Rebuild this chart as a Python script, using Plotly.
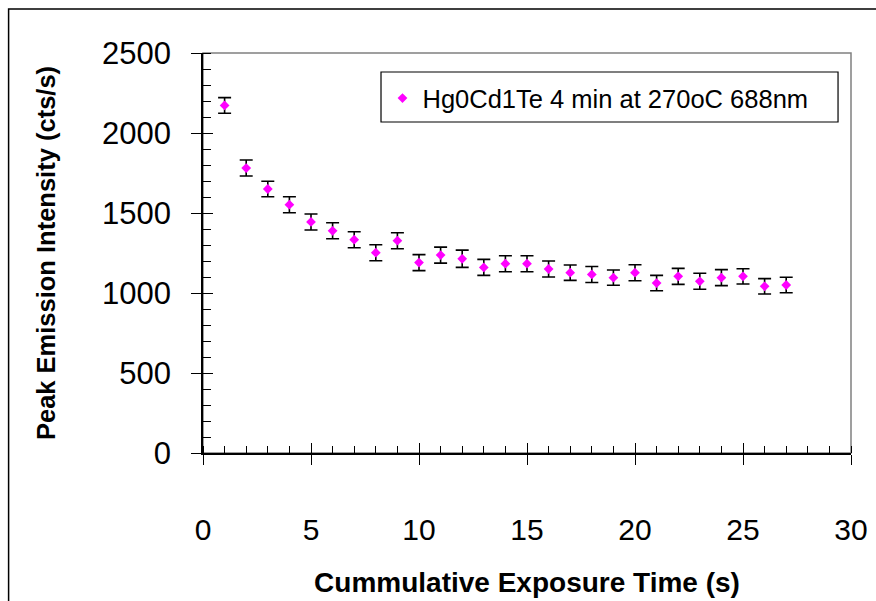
import plotly.graph_objects as go

# Exposure series: peak emission intensity vs cumulative exposure time
exposure_s = [1, 2, 3, 4, 5, 6, 7, 8, 9, 10, 11, 12, 13, 14, 15, 16, 17, 18, 19,
              20, 21, 22, 23, 24, 25, 26, 27]
intensity = [2172, 1781, 1650, 1552, 1444, 1389, 1333, 1252, 1327, 1190, 1237,
             1214, 1160, 1183, 1183, 1150, 1127, 1116, 1096, 1127, 1062, 1104,
             1073, 1096, 1104, 1042, 1050]
intensity_err = [49, 50, 48, 50, 50, 50, 50, 50, 50, 50, 50, 54, 50, 50, 50, 50,
                 48, 50, 48, 50, 48, 50, 50, 50, 48, 48, 48]
series_name = "Hg0Cd1Te 4 min at 270oC 688nm"

x_ticks = [0, 5, 10, 15, 20, 25, 30]
y_ticks = [0, 500, 1000, 1500, 2000, 2500]

FONT = "Liberation Sans, Arial, sans-serif"

fig = go.Figure()
fig.add_trace(go.Scatter(
    x=exposure_s, y=intensity, mode="markers", name=series_name,
    marker=dict(symbol="diamond", size=7.5, color="#FF00FF"),
    error_y=dict(type="data", array=intensity_err, visible=True,
                 color="black", thickness=1.6, width=6.5),
))

axis_common = dict(showgrid=False, zeroline=False, showline=True,
                   linecolor="black", linewidth=1.5, tickcolor="black",
                   tickwidth=1.2, ticks="outside", ticklen=10,
                   automargin=False)

fig.update_layout(
    width=876, height=601,
    margin=dict(l=203, r=25, t=53, b=148),
    paper_bgcolor="white", plot_bgcolor="white",
    font=dict(family=FONT, color="black"),
    showlegend=True,
    legend=dict(x=0.277, y=0.945, xanchor="left", yanchor="top",
                bgcolor="rgba(0,0,0,0)", borderwidth=0,
                font=dict(size=25.5, family=FONT)),
    xaxis=dict(range=[0, 30], tickvals=x_ticks, ticklabelstandoff=39,
               tickfont=dict(size=30),
               minor=dict(dtick=1, ticks="inside", ticklen=7,
                          tickcolor="black", tickwidth=1),
               title=dict(text="<b>Cummulative Exposure Time (s)</b>",
                          font=dict(size=28), standoff=28),
               **axis_common),
    yaxis=dict(range=[0, 2500], tickvals=y_ticks, ticklabelstandoff=14,
               tickfont=dict(size=31),
               minor=dict(dtick=100, ticks="inside", ticklen=8,
                          tickcolor="black", tickwidth=1),
               title=dict(text="<b>Peak Emission Intensity (cts/s)</b>",
                          font=dict(size=25.5), standoff=39),
               **axis_common),
    # overlay axes carry the inner half of the major ticks
    xaxis2=dict(range=[0, 30], tickvals=x_ticks, overlaying="x", anchor="y",
                side="bottom", showticklabels=False, showgrid=False,
                zeroline=False, showline=False, ticks="inside", ticklen=10,
                tickcolor="black", tickwidth=1.2, automargin=False),
    yaxis2=dict(range=[0, 2500], tickvals=y_ticks, overlaying="y", anchor="x",
                side="left", showticklabels=False, showgrid=False,
                zeroline=False, showline=False, ticks="inside", ticklen=10,
                tickcolor="black", tickwidth=1.2, automargin=False),
    shapes=[
        # grey frame of the plotting area
        dict(type="rect", xref="paper", yref="paper", x0=0, y0=0, x1=1, y1=1,
             line=dict(color="#808080", width=1.5), layer="below"),
        # outer chart border
        dict(type="rect", xref="paper", yref="paper", x0=-0.3, y0=-1.0,
             x1=2.0, y1=1.11, line=dict(color="black", width=1.5),
             layer="below"),
        # legend box
        dict(type="rect", xref="paper", yref="paper", x0=0.2747, y0=0.8275,
             x1=0.98, y1=0.9525, line=dict(color="black", width=1.2),
             fillcolor="white", layer="above"),
    ],
)

# invisible trace to activate the overlay axes
fig.add_trace(go.Scatter(x=[None], y=[None], xaxis="x2", yaxis="y2",
                         showlegend=False, hoverinfo="skip"))

fig.write_html("out.html")
